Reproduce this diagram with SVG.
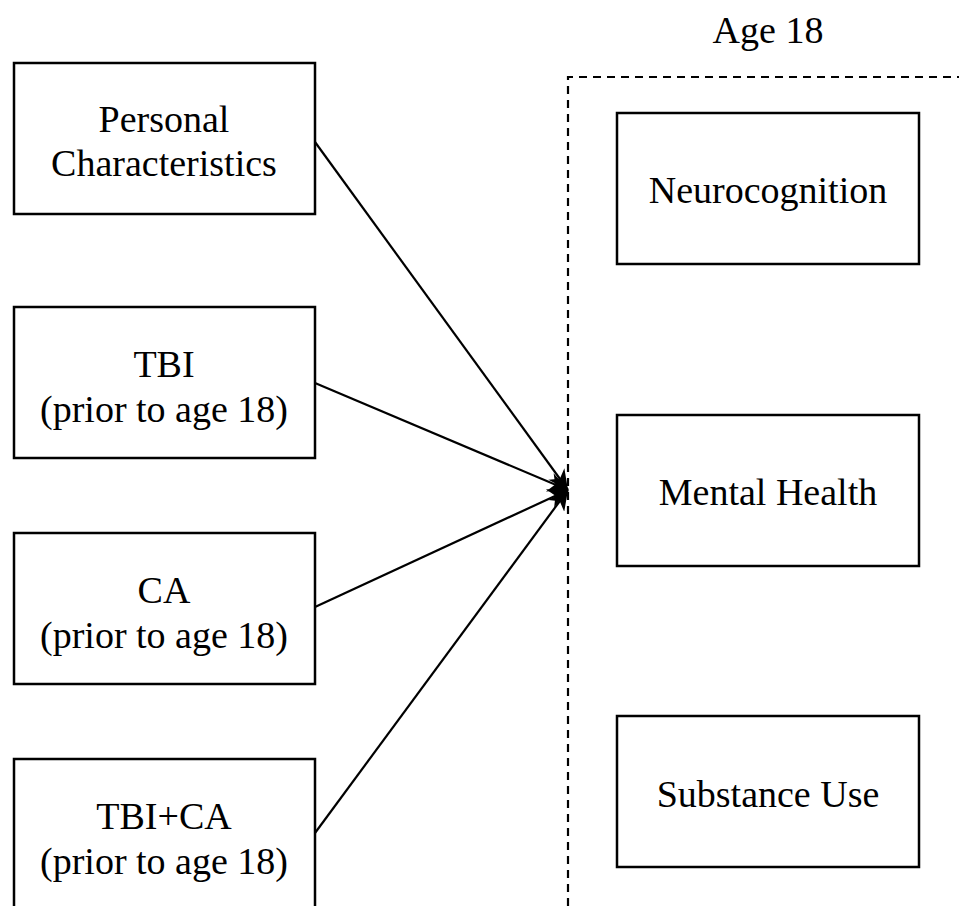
<svg xmlns="http://www.w3.org/2000/svg" width="959" height="906" viewBox="0 0 959 906">
<style>
.box{fill:#fff;stroke:#000;stroke-width:2.5}
text{font-family:"Liberation Serif","Times New Roman",serif;font-size:38px;fill:#000;text-anchor:middle}
.conn{stroke:#000;stroke-width:2.2;fill:none;marker-end:url(#ah)}
</style>
<defs>
<marker id="ah" viewBox="0 0 10 10" refX="10" refY="5" markerWidth="10" markerHeight="9" markerUnits="strokeWidth" orient="auto">
<path d="M0,0 L10,5 L0,10 L3,5 Z" fill="#000"/>
</marker>
</defs>
<rect width="959" height="906" fill="#fff"/>
<text x="768" y="43">Age 18</text>
<path d="M568,906 L568,77 L959,77" fill="none" stroke="#000" stroke-width="2.2" stroke-dasharray="8,6"/>
<g id="personal"><rect class="box" x="14" y="63" width="301" height="151"/><text x="164" y="132">Personal</text><text x="164" y="176">Characteristics</text></g>
<g id="tbi"><rect class="box" x="14" y="307" width="301" height="151"/><text x="164" y="377">TBI</text><text x="164" y="422">(prior to age 18)</text></g>
<g id="ca"><rect class="box" x="14" y="533" width="301" height="151"/><text x="164" y="603">CA</text><text x="164" y="648">(prior to age 18)</text></g>
<g id="tbica"><rect class="box" x="14" y="759" width="301" height="155"/><text x="164" y="829">TBI+CA</text><text x="164" y="874">(prior to age 18)</text></g>
<g id="neuro"><rect class="box" x="617" y="113" width="302" height="151"/><text x="768" y="203">Neurocognition</text></g>
<g id="mental"><rect class="box" x="617" y="415" width="302" height="151"/><text x="768" y="505">Mental Health</text></g>
<g id="substance"><rect class="box" x="617" y="716" width="302" height="151"/><text x="768" y="807">Substance Use</text></g>
<g id="connectors">
<line class="conn" x1="315" y1="142" x2="568" y2="490"/>
<line class="conn" x1="315" y1="383" x2="568" y2="490"/>
<line class="conn" x1="315" y1="607" x2="568" y2="490"/>
<line class="conn" x1="315" y1="833" x2="568" y2="490"/>
</g>
</svg>
